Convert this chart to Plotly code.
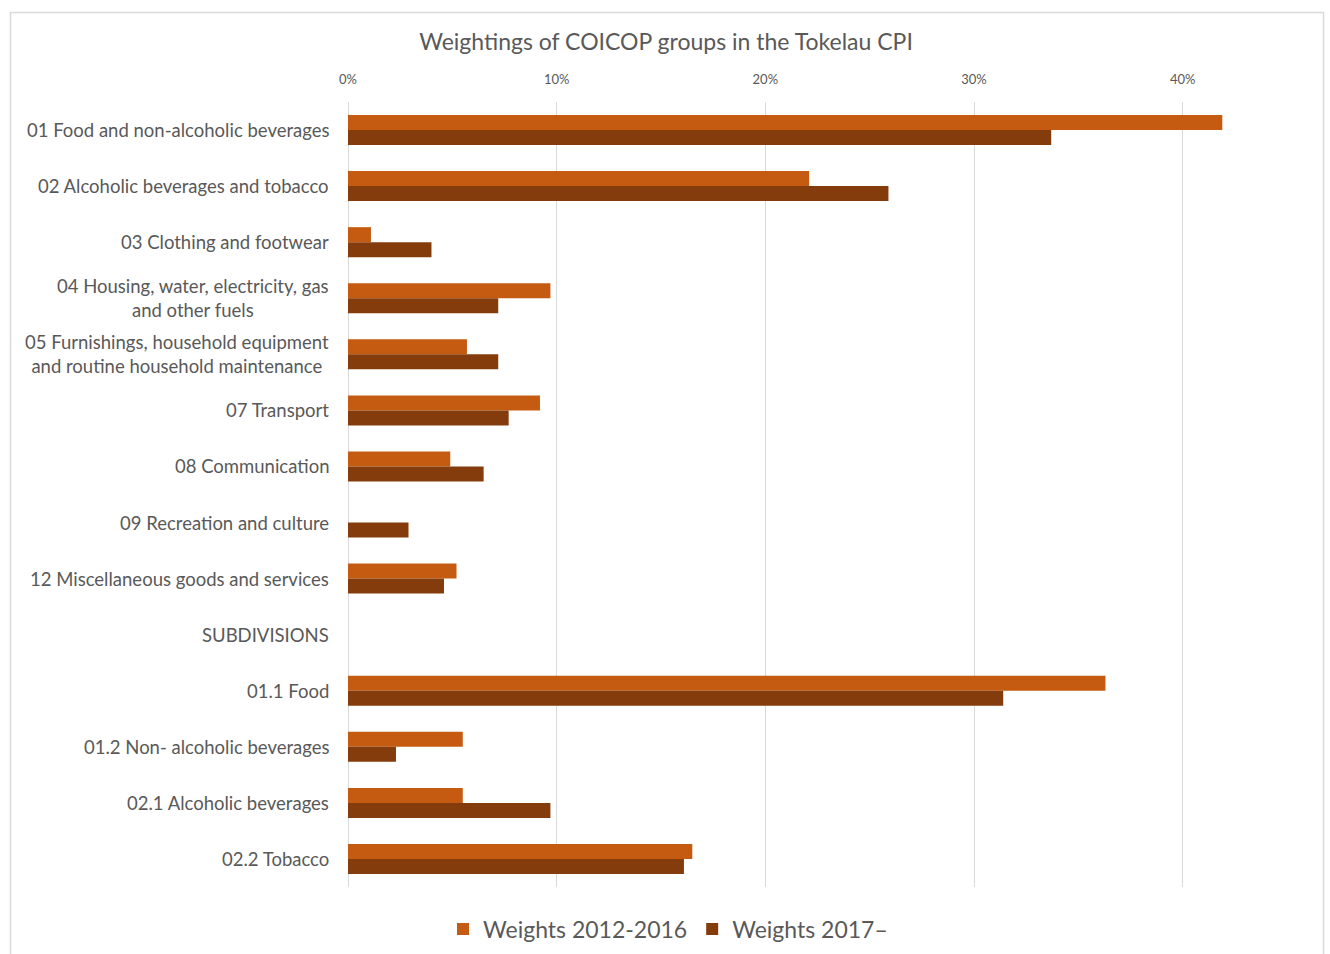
import plotly.graph_objects as go

categories = [
    "01 Food and non-alcoholic beverages",
    "02 Alcoholic beverages and tobacco",
    "03 Clothing and footwear",
    "04 Housing, water, electricity, gas<br>and other fuels",
    "05 Furnishings, household equipment<br>and routine household maintenance",
    "07 Transport",
    "08 Communication",
    "09 Recreation and culture",
    "12 Miscellaneous goods and services",
    "SUBDIVISIONS",
    "01.1 Food",
    "01.2 Non- alcoholic beverages",
    "02.1 Alcoholic beverages",
    "02.2 Tobacco",
]
weights_2012_2016 = [41.9, 22.1, 1.1, 9.7, 5.7, 9.2, 4.9, None, 5.2, None, 36.3, 5.5, 5.5, 16.5]
weights_2017 = [33.7, 25.9, 4.0, 7.2, 7.2, 7.7, 6.5, 2.9, 4.6, None, 31.4, 2.3, 9.7, 16.1]
x_ticks = [0, 10, 20, 30, 40]
x_tick_labels = ["0%", "10%", "20%", "30%", "40%"]

series_names = ["Weights 2012-2016", "Weights 2017–"]
colors = ["#C55A11", "#843C0C"]

W, H = 1330, 954
L, R, T, B = 348, 1287, 102, 887

fig = go.Figure()
for name, vals, col in zip(series_names, [weights_2012_2016, weights_2017], colors):
    fig.add_trace(go.Bar(
        y=categories, x=[v / 100 if v is not None else None for v in vals],
        orientation="h", name=name, marker=dict(color=col, line=dict(width=0)),
    ))

font_family = "Lato, 'Open Sans', sans-serif"
grey = "#595959"

annotations = []
for c in categories:
    annotations.append(dict(
        x=0, xref="paper", y=c, yref="y", text=c, showarrow=False,
        xanchor="right", yanchor="middle", align="center", xshift=-17,
        font=dict(family=font_family, size=18.5, color=grey),
    ))

def px_x(p):
    return (p - L) / (R - L)

def px_y(p):
    return (B - p) / (B - T)

fig.update_layout(
    width=W, height=H,
    margin=dict(l=L, r=W - R, t=T, b=H - B, pad=0),
    paper_bgcolor="white", plot_bgcolor="white",
    barmode="group", bargap=0.465, bargroupgap=0,
    title=dict(text="Weightings of COICOP groups in the Tokelau CPI",
               x=666 / W, xanchor="center", y=1 - 42 / H, yanchor="middle",
               font=dict(family=font_family, size=23, color=grey)),
    xaxis=dict(side="top", range=[0, 0.45], tickvals=[t / 100 for t in x_ticks],
               ticktext=x_tick_labels, showgrid=True, gridcolor="#D9D9D9", gridwidth=1,
               zeroline=True, zerolinecolor="#D9D9D9", zerolinewidth=1,
               tickfont=dict(family=font_family, size=13, color=grey),
               ticks="", ticklabelstandoff=14, showline=False, fixedrange=True),
    yaxis=dict(autorange="reversed", showticklabels=False, showgrid=False,
               zeroline=False, showline=False, ticks="", fixedrange=True),
    legend=dict(orientation="h", xref="container", yref="container",
                x=668 / W, xanchor="center", y=1 - 929 / H, yanchor="middle",
                font=dict(family=font_family, size=23, color=grey),
                itemwidth=30, traceorder="normal"),
    annotations=annotations,
    shapes=[dict(type="rect", xref="paper", yref="paper",
                 x0=px_x(10.5), x1=px_x(1323.5), y0=px_y(1000), y1=px_y(12.5),
                 line=dict(color="#D9D9D9", width=1.5), fillcolor="rgba(0,0,0,0)",
                 layer="below")],
)

fig.write_html("out.html")
